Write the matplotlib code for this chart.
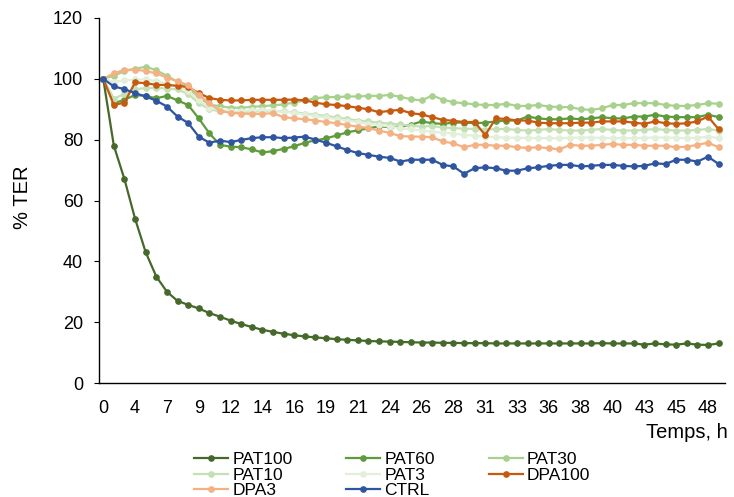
import numpy as np
import matplotlib
matplotlib.use("Agg")
import matplotlib.pyplot as plt

plt.rcParams["font.family"] = ["Liberation Sans", "DejaVu Sans"]

# tick labels of the time axis, one every 3 measurements
time_labels = ["0", "4", "7", "9", "12", "14", "16", "19", "21", "24",
               "26", "28", "31", "33", "36", "38", "40", "43", "45", "48"]

pat100 = [100, 78, 67, 54, 43, 35, 30, 27, 25.7, 24.5,
          23, 21.8, 20.5, 19.4, 18.4, 17.5, 16.8, 16.2, 15.7, 15.3,
          15, 14.7, 14.4, 14.2, 14, 13.8, 13.7, 13.6, 13.5, 13.4,
          13.3, 13.3, 13.2, 13.2, 13.1, 13.1, 13.1, 13, 13, 13,
          13, 13, 13, 13, 13, 13, 13, 13.1, 13, 13,
          13, 12.6, 13, 12.7, 12.6, 13, 12.6, 12.5, 13]

pat60 = [100, 92, 93.1, 94.7, 94.4, 93.6, 94.4, 92.9, 91.4, 87,
         82.1, 78.3, 77.7, 77.5, 76.8, 75.8, 76.2, 77, 77.8, 79,
         79.8, 80.4, 81.4, 82.4, 83.1, 83.7, 84.4, 84.1, 84.3, 84.9,
         86, 85.4, 85.2, 85.6, 85.6, 85.4, 85.6, 86, 86.3, 86.3,
         87.6, 87, 86.7, 86.7, 87, 86.7, 87, 87.4, 87, 87,
         87.6, 87.6, 88.2, 87.6, 87.4, 87.4, 87.4, 88.2, 87.4]

pat30 = [100, 101, 102.5, 103.3, 104, 102.8, 101, 99, 97, 94,
         91.5, 91, 90.5, 90.5, 90.8, 91, 91.3, 91.6, 92.2, 92.9,
         93.6, 94, 94, 94.2, 94.2, 94.4, 94.4, 94.7, 94.1, 93.3,
         92.9, 94.5, 93.2, 92.3, 92, 91.6, 91.4, 91.4, 91.8, 91.1,
         91.1, 91.4, 90.9, 90.7, 90.7, 90, 89.8, 90.3, 91.4, 91.4,
         92, 92, 92, 91.4, 91.1, 91.1, 91.4, 92, 91.8]

pat10 = [100, 93.5, 95, 96.5, 97, 97, 96.8, 96.5, 95, 92,
         90, 89.3, 89, 89, 89.2, 89.4, 89.5, 89.3, 89, 88.6,
         88.2, 87.8, 87.3, 86.8, 86.3, 86, 85.6, 85.3, 85, 84.6,
         84.3, 84.5, 84, 83.8, 83.6, 83.5, 83.3, 83.5, 83.5, 83.2,
         83, 83.2, 83.5, 83.2, 83, 83, 83.2, 83.5, 83.2, 83,
         83, 83.2, 83.5, 83.2, 83, 83, 83.2, 83.5, 83]

pat3 = [100, 99, 99.5, 99.8, 99.8, 99.3, 98.5, 97.5, 96, 93,
        90.5, 89.8, 89.5, 89.5, 89.6, 89.7, 89.5, 89.2, 88.8, 88.3,
        87.8, 87.3, 86.8, 86.3, 85.8, 85.3, 84.8, 84.3, 83.8, 83.4,
        83, 82.6, 82.3, 82, 81.6, 81.3, 81, 80.8, 80.7, 80.6,
        80.6, 80.5, 80.5, 80.5, 80.6, 80.7, 80.7, 80.6, 80.5, 80.5,
        80.5, 80.6, 80.7, 80.7, 80.6, 80.5, 80.6, 81, 80.5]

dpa100 = [100, 91.4, 92.2, 98.8, 98.6, 98, 98, 97.7, 97.3, 95.3,
          93.7, 93.1, 92.9, 92.9, 93.1, 93.1, 93.1, 93.1, 93.2, 92.9,
          92.2, 91.6, 91.4, 91, 90.5, 90, 89, 89.5, 89.8, 88.7,
          88.3, 87.4, 86.5, 86.2, 85.8, 85.8, 81.5, 87, 86.8, 86.3,
          86.3, 85.6, 85.4, 85.4, 85.4, 85.6, 85.6, 86, 86, 86,
          85.6, 85.2, 86, 85.4, 85.2, 85.4, 86, 87.6, 83.4]

dpa3 = [100, 101.8, 103, 103, 102.6, 101.8, 100.4, 99.2, 97.9, 94.7,
        92, 89.5, 88.8, 88.6, 88.4, 88.5, 88.7, 87.4, 87, 86.7,
        86.3, 85.8, 85.4, 84.8, 84.3, 83.8, 83, 82.2, 81.2, 81,
        81, 80.8, 79.4, 78.8, 77.5, 78.3, 78.3, 78, 78, 77.5,
        77.3, 77.5, 77.2, 76.8, 78.3, 78, 78, 78.3, 78.6, 78.3,
        78.3, 78, 78, 78, 77.5, 77.7, 78.3, 79, 77.5]

ctrl = [100, 97.5, 96.6, 95.3, 94.2, 92.8, 90.9, 87.6, 85.5, 81,
        79, 79.7, 79.2, 79.9, 80.5, 80.8, 80.8, 80.5, 80.7, 81,
        80, 79, 77.8, 76.6, 75.6, 75, 74.4, 74, 72.8, 73.4,
        73.4, 73.4, 71.7, 71.2, 68.8, 70.6, 70.9, 70.6, 69.8, 69.8,
        70.6, 70.9, 71.4, 71.7, 71.7, 71.2, 71.4, 71.7, 71.7, 71.4,
        71.2, 71.4, 72.2, 72, 73.4, 73.4, 72.8, 74.4, 72]

series = [
    ("PAT100", pat100, "#46692b"),
    ("PAT60", pat60, "#5f9a3d"),
    ("PAT30", pat30, "#a9d18e"),
    ("PAT10", pat10, "#c5e0b4"),
    ("PAT3", pat3, "#e2efd9"),
    ("DPA100", dpa100, "#c55a11"),
    ("DPA3", dpa3, "#f4b183"),
    ("CTRL", ctrl, "#2f55a0"),
]

fig = plt.figure(figsize=(7.34, 4.97), dpi=100)
ax = fig.add_axes([99 / 734, 1 - 383 / 497, 626 / 734, 365 / 497])

x = np.arange(len(ctrl))
lines = {}
for name, values, color in series:
    line, = ax.plot(x, values, color=color, lw=1.6, marker="o", ms=3.8,
                    mec=color, mfc=color, label=name)
    lines[name] = line

ax.set_xlim(-0.4, len(ctrl) - 0.4)
ax.set_ylim(0, 120)
ax.set_yticks(range(0, 121, 20))
ax.set_xticks(x[::3])
ax.set_xticklabels(time_labels)

for side in ["top", "right"]:
    ax.spines[side].set_visible(False)
for side in ["left", "bottom"]:
    ax.spines[side].set_linewidth(1.0)
    ax.spines[side].set_color("black")

ax.tick_params(axis="x", length=0, pad=12.5, labelsize=13)
ax.tick_params(axis="y", length=3.6, width=0.8, pad=8, labelsize=13)

fig.text(22 / 734, 1 - 197 / 497, "% TER", rotation=90, ha="center",
         va="center", fontsize=14.5)
fig.text(728 / 734, 1 - 432 / 497, "Temps, h", ha="right", va="center",
         fontsize=14.5)

# matplotlib fills legend columns first, so reorder to get Excel's row order
order = ["PAT100", "PAT10", "DPA3", "PAT60", "PAT3", "CTRL", "PAT30", "DPA100"]
fig.legend([lines[n] for n in order], order, ncol=3, loc="upper left",
           bbox_to_anchor=(194 / 734, 1 - 452 / 497), frameon=False,
           borderpad=0, borderaxespad=0, fontsize=12.5, labelspacing=0.02,
           handlelength=1.95, handletextpad=0.25, columnspacing=3.1,
           numpoints=1)

fig.savefig("out.png", dpi=100)
